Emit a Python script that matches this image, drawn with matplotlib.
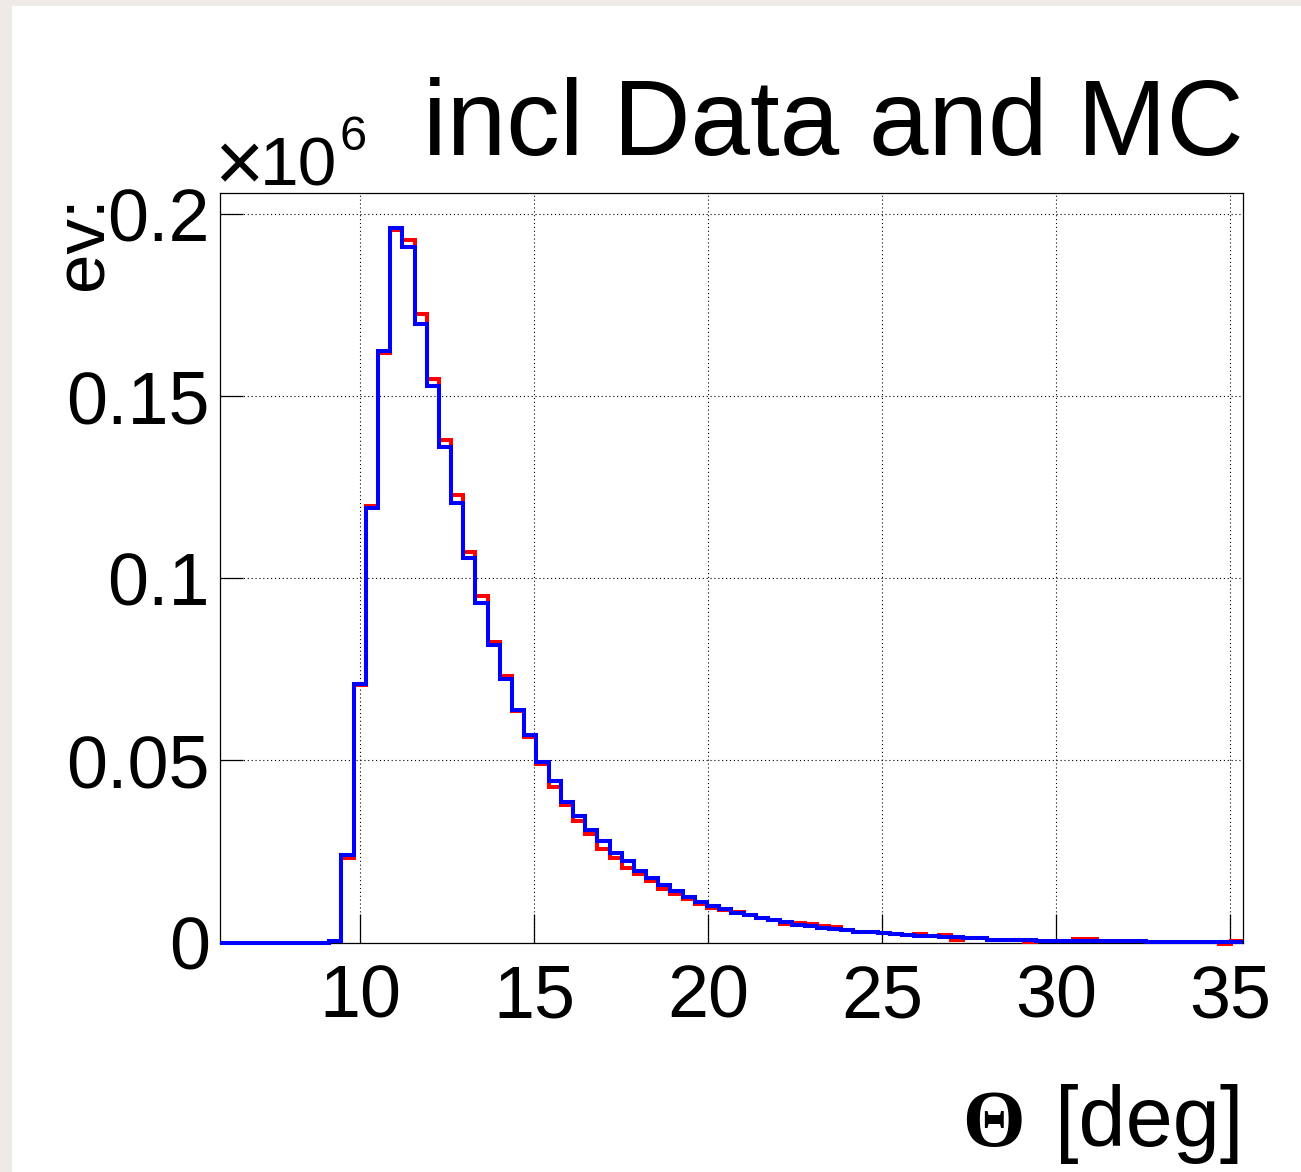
import numpy as np
import matplotlib
matplotlib.use("Agg")
import matplotlib.pyplot as plt
from matplotlib.patches import Rectangle

plt.rcParams['font.family'] = ['Liberation Sans', 'DejaVu Sans']

# ---- data (units of 10^6 events) ----
x_min, x_max, n_bins = 5.953, 35.38, 84
data_red = [0, 0, 0, 0, 0, 0, 0, 0, 0, 0.0004,
            0.0232, 0.0707, 0.1198, 0.1619, 0.1958, 0.1931, 0.1727, 0.1549, 0.1379, 0.1228,
            0.1074, 0.0951, 0.0826, 0.0731, 0.0635, 0.0564, 0.0491, 0.0427, 0.0379, 0.0335,
            0.0299, 0.0258, 0.0233, 0.0204, 0.0187, 0.0168, 0.0148, 0.0132, 0.0119, 0.0107,
            0.0095, 0.0088, 0.0084, 0.0076, 0.0067, 0.0061, 0.0051, 0.0054, 0.0051, 0.0044,
            0.0042, 0.0033, 0.0030, 0.0028, 0.0026, 0.0023, 0.0020, 0.0024, 0.0017, 0.0021,
            0.0007, 0.0012, 0.0012, 0.0008, 0.0008, 0.0008, 0.0002, 0.0005, 0.0005, 0.0005,
            0.0009, 0.0009, 0.0003, 0.0003, 0.0003, 0.0003, 0.0001, 0.0001, 0.0001, 0.0001,
            0.0001, 0.0001, -0.0004, 0.0003]
mc_blue = [0, 0, 0, 0, 0, 0, 0, 0, 0, 0.0005,
           0.0239, 0.0709, 0.1194, 0.1625, 0.1962, 0.1910, 0.1699, 0.1529, 0.1361, 0.1208,
           0.1056, 0.0932, 0.0818, 0.0723, 0.0639, 0.0569, 0.0497, 0.0445, 0.0387, 0.0348,
           0.0310, 0.0279, 0.0245, 0.0223, 0.0196, 0.0177, 0.0157, 0.0141, 0.0124, 0.0112,
           0.0099, 0.0091, 0.0080, 0.0075, 0.0067, 0.0061, 0.0056, 0.0048, 0.0046, 0.0039,
           0.0037, 0.0033, 0.0030, 0.0028, 0.0026, 0.0023, 0.0020, 0.0017, 0.0017, 0.0015,
           0.0015, 0.0012, 0.0012, 0.0008, 0.0008, 0.0008, 0.0008, 0.0005, 0.0005, 0.0005,
           0.0003, 0.0003, 0.0003, 0.0003, 0.0003, 0.0003, 0.0001, 0.0001, 0.0001, 0.0001,
           0.0001, 0.0001, 0.0001, 0.0001]
x_ticks = [10, 15, 20, 25, 30, 35]
x_tick_labels = ['10', '15', '20', '25', '30', '35']
y_ticks = [0, 0.05, 0.1, 0.15, 0.2]
y_tick_labels = ['0', '0.05', '0.1', '0.15', '0.2']
title = 'incl Data and MC'
y_label = 'ev:'
x_label_sym = 'Θ'
x_label_unit = '[deg]'
exponent = '6'
y_max = 0.2058

W, H = 1301, 1172
fig = plt.figure(figsize=(W / 100, H / 100), dpi=100)
fig.patch.set_facecolor('white')
band = '#eeebe6'
fig.patches.append(Rectangle((0, 1 - 6 / H), 1, 6 / H, transform=fig.transFigure,
                             facecolor=band, edgecolor='none', zorder=-10))
fig.patches.append(Rectangle((0, 0), 12 / W, 1, transform=fig.transFigure,
                             facecolor=band, edgecolor='none', zorder=-10))

L, R, T, B = 219.5, 1243.3, 193.3, 942.5
ax = fig.add_axes([L / W, 1 - B / H, (R - L) / W, (B - T) / H])

edges = np.linspace(x_min, x_max, n_bins + 1)
ax.stairs(data_red, edges, color='#ff0000', linewidth=2.9, baseline=None, clip_on=False, zorder=3)
ax.stairs(mc_blue, edges, color='#0000ff', linewidth=2.9, baseline=None, clip_on=False, zorder=4)

ax.set_xlim(x_min, x_max)
ax.set_ylim(0, y_max)
ax.set_xticks(x_ticks)
ax.set_xticklabels(x_tick_labels)
ax.set_yticks(y_ticks)
ax.set_yticklabels(y_tick_labels)
ax.minorticks_off()
ax.set_axisbelow(True)
ax.grid(True, color='black', linestyle=(0, (1, 2.5)), linewidth=0.8)

for s in ax.spines.values():
    s.set_linewidth(0.9)
ax.tick_params(axis='x', direction='in', length=21, width=0.9, labelsize=53, pad=15)
ax.tick_params(axis='y', direction='in', length=16.5, width=0.9, labelsize=53, pad=7)

def px(x, y):
    return x / W, 1 - y / H

# title
fig.text(*px(R, 155), title, ha='right', va='baseline', fontsize=77)
# exponent  (x, 10, superscript 6)
fig.text(*px(214, 191), '×', ha='left', va='baseline', fontsize=61)
fig.text(*px(260, 185), '10', ha='left', va='baseline', fontsize=50)
fig.text(*px(340, 150), exponent, ha='left', va='baseline', fontsize=35)
# y label
fig.text(*px(103, 195), y_label, rotation=90, rotation_mode='anchor',
         ha='right', va='baseline', fontsize=51)
# x label
t_unit = fig.text(*px(R, 1146), x_label_unit, ha='right', va='baseline', fontsize=61)
fig.canvas.draw()
bb = t_unit.get_window_extent(renderer=fig.canvas.get_renderer())
x_left_px = bb.x0  # display coords, origin bottom-left
fig.text((x_left_px - 30) / W, 1 - 1146 / H, x_label_sym, ha='right', va='baseline',
         fontsize=58, family=['Liberation Serif'], fontweight='bold')

fig.savefig('out.png', dpi=100, facecolor='white')
